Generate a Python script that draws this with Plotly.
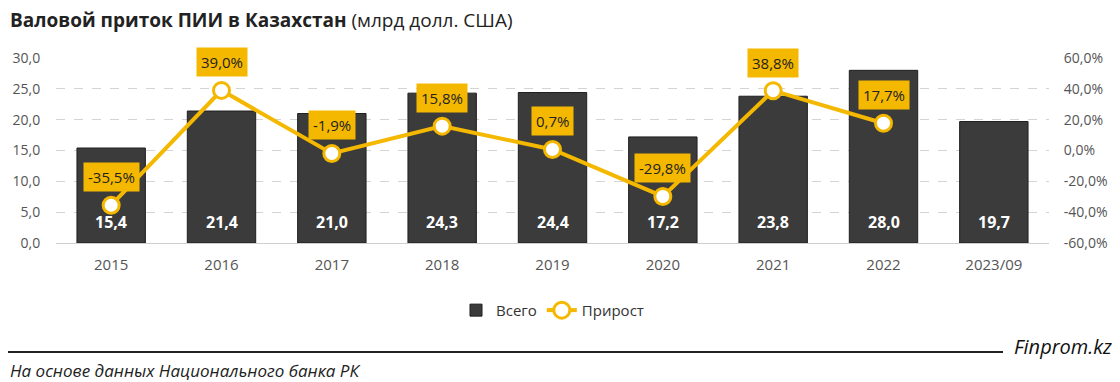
import plotly.graph_objects as go

categories = ["2015", "2016", "2017", "2018", "2019", "2020", "2021", "2022", "2023/09"]
total = [15.4, 21.4, 21.0, 24.3, 24.4, 17.2, 23.8, 28.0, 19.7]
growth_cats = ["2015", "2016", "2017", "2018", "2019", "2020", "2021", "2022"]
growth = [-35.5, 39.0, -1.9, 15.8, 0.7, -29.8, 38.8, 17.7]
left_ticks = [0, 5, 10, 15, 20, 25, 30]
left_labels = ["0,0", "5,0", "10,0", "15,0", "20,0", "25,0", "30,0"]
right_ticks = [-60, -40, -20, 0, 20, 40, 60]
right_labels = ["-60,0%", "-40,0%", "-20,0%", "0,0%", "20,0%", "40,0%", "60,0%"]

GOLD = "#F5B800"
BAR = "#3b3b3b"
FONT = "Open Sans"
TICK = "#555555"

W, H = 1112, 374
ML, MR, MT, MB = 48, 71, 50, 139
PW, PH = W - ML - MR, H - MT - MB

def fmt(v, suffix=""):
    return f"{v:.1f}".replace(".", ",") + suffix

cat_pos = list(range(len(categories)))
growth_pos = [categories.index(c) for c in growth_cats]

fig = go.Figure()
fig.add_trace(go.Bar(
    x=cat_pos, y=total, name="Всего",
    marker=dict(color=BAR, line=dict(color="#1f1f1f", width=1)),
    width=0.62, hoverinfo="skip",
))
fig.add_trace(go.Scatter(
    x=growth_pos, y=growth, name="Прирост", yaxis="y2",
    mode="lines+markers",
    line=dict(color=GOLD, width=4),
    marker=dict(size=16, color="white", line=dict(color=GOLD, width=3)),
))

# bar value labels near the bar base
for p, v in zip(cat_pos, total):
    fig.add_annotation(
        x=p, y=0, xref="x", yref="y", text="<b>" + fmt(v) + "</b>", showarrow=False,
        yanchor="middle", yshift=21,
        font=dict(family=FONT, size=16, color="white"),
    )

# growth labels in gold boxes above the points
for p, g in zip(growth_pos, growth):
    fig.add_annotation(
        x=p, y=g, xref="x", yref="y2", text=fmt(g, "%"), showarrow=False,
        yshift=28, bgcolor=GOLD, borderpad=4,
        font=dict(family=FONT, size=15, color="#222222"),
    )

fig.add_annotation(
    x=0, y=1, xref="paper", yref="paper", xanchor="left", yanchor="middle",
    xshift=-ML, yshift=MT - 12, showarrow=False,
    text="<b>Валовой приток ПИИ в Казахстан</b> (млрд долл. США)",
    font=dict(family=FONT, size=19, color="#222222"),
)
fig.add_annotation(
    x=0, y=0, xref="paper", yref="paper", xanchor="left", yanchor="middle",
    xshift=-ML, yshift=-127, showarrow=False,
    text="<i>На основе данных Национального банка РК</i>",
    font=dict(family="Liberation Sans Narrow, Open Sans", size=17, color="#222222"),
)
fig.add_annotation(
    x=1, y=0, xref="paper", yref="paper", xanchor="right", yanchor="middle",
    xshift=MR - 6, yshift=-103, showarrow=False,
    text="<i>Finprom.kz</i>",
    font=dict(family=FONT, size=20, color="#111111"),
)
fig.add_shape(
    type="line", xref="paper", yref="paper",
    x0=(-ML) / PW, x1=(995 - ML) / PW,
    y0=-109 / PH, y1=-109 / PH,
    line=dict(color="#222222", width=2),
)

fig.update_layout(
    width=W, height=H,
    margin=dict(l=ML, r=MR, t=MT, b=MB, autoexpand=False),
    paper_bgcolor="white", plot_bgcolor="white",
    font=dict(family=FONT, size=14, color=TICK),
    showlegend=True,
    legend=dict(orientation="h", x=0.5, xanchor="center", y=-0.275, yanchor="top",
                font=dict(size=15, color="#333333")),
    xaxis=dict(range=[-0.5, len(categories) - 0.5], tickvals=cat_pos, ticktext=categories,
               showline=True, linecolor="#cfcfcf", linewidth=1,
               ticks="outside", ticklen=8, tickcolor="rgba(0,0,0,0)",
               tickfont=dict(size=15, color=TICK), showgrid=False, zeroline=False),
    yaxis=dict(range=[0, 30], tickvals=left_ticks, ticktext=left_labels, showgrid=True,
               gridcolor="#d4d4d4", griddash="dash", zeroline=False,
               ticks="outside", ticklen=12, tickcolor="rgba(0,0,0,0)",
               tickfont=dict(size=14, color=TICK)),
    yaxis2=dict(range=[-60, 60], tickvals=right_ticks, ticktext=right_labels,
                overlaying="y", side="right", showgrid=False, zeroline=False,
                ticks="outside", ticklen=11, tickcolor="rgba(0,0,0,0)",
                tickfont=dict(size=14, color=TICK)),
)

fig.write_html("out.html")
